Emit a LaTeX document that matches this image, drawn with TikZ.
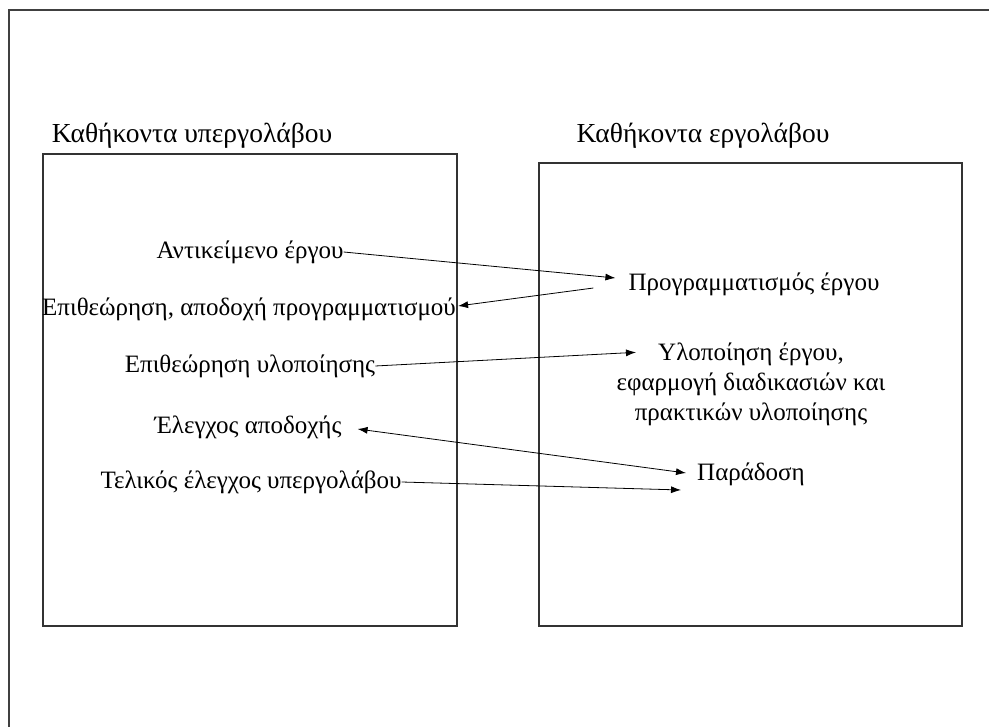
\documentclass[tikz,border=0pt]{standalone}
\usepackage{fontspec}
\setmainfont{Liberation Serif}
\usetikzlibrary{calc,arrows.meta}
\begin{document}
\begin{tikzpicture}[x=1pt,y=-1pt,
  frameline/.style={draw=black!75,line width=1.3pt},
  boxline/.style={draw=black!80,line width=1.3pt},
  lbl/.style={inner sep=0pt,font=\fontsize{25}{30}\selectfont,align=center},
  head/.style={lbl,font=\fontsize{27.5}{32}\selectfont},
  conn/.style={draw=black,line width=0.8pt},
  tip/.style={-{Latex[length=10pt,width=7pt]}},
  tips/.style={{Latex[length=10pt,width=7pt]}-{Latex[length=10pt,width=7pt]}}]
  \useasboundingbox (0,0) rectangle (989,727);
  % outer sheet edge
  \draw[frameline] (9,727) -- (9,10) -- (989,10);
  % the two task boxes
  \draw[boxline] (43,154) rectangle (457,626);
  \draw[boxline] (539,163) rectangle (962,626);
  % headings
  \node[head] (hsub) at (192,136) {Καθήκοντα υπεργολάβου};
  \node[head] (hcon) at (703,136) {Καθήκοντα εργολάβου};
  % subcontractor tasks
  \node[lbl] (obj) at (250,252) {Αντικείμενο έργου};
  \node[lbl] (rev) at (249,309) {Επιθεώρηση, αποδοχή προγραμματισμού};
  \node[lbl] (insp) at (250,366) {Επιθεώρηση υλοποίησης};
  \node[lbl] (acc) at (248,427) {Έλεγχος αποδοχής};
  \node[lbl] (fin) at (251,482) {Τελικός έλεγχος υπεργολάβου};
  % contractor tasks
  \node[lbl] (plan) at (754,284) {Προγραμματισμός έργου};
  \node[lbl] (impl) at (751,384) {Υλοποίηση έργου,\\εφαρμογή διαδικασιών και\\πρακτικών υλοποίησης};
  \node[lbl] (del) at (751,474) {Παράδοση};
  % connectors
  \draw[conn,tip] (obj.east) -- ($(plan.west)+(-13,-6)$);
  \draw[conn,tip] ($(plan.west)+(-35,4)$) -- ($(rev.east)+(2,-3)$);
  \draw[conn,tip] (insp.east) -- ($(impl.north)+(-115,10)$);
  \draw[conn,tips] ($(acc.east)+(16,2)$) -- ($(del.west)+(-11,-1)$);
  \draw[conn,tip] (fin.east) -- ($(del.west)+(-16,16)$);
\end{tikzpicture}
\end{document}
